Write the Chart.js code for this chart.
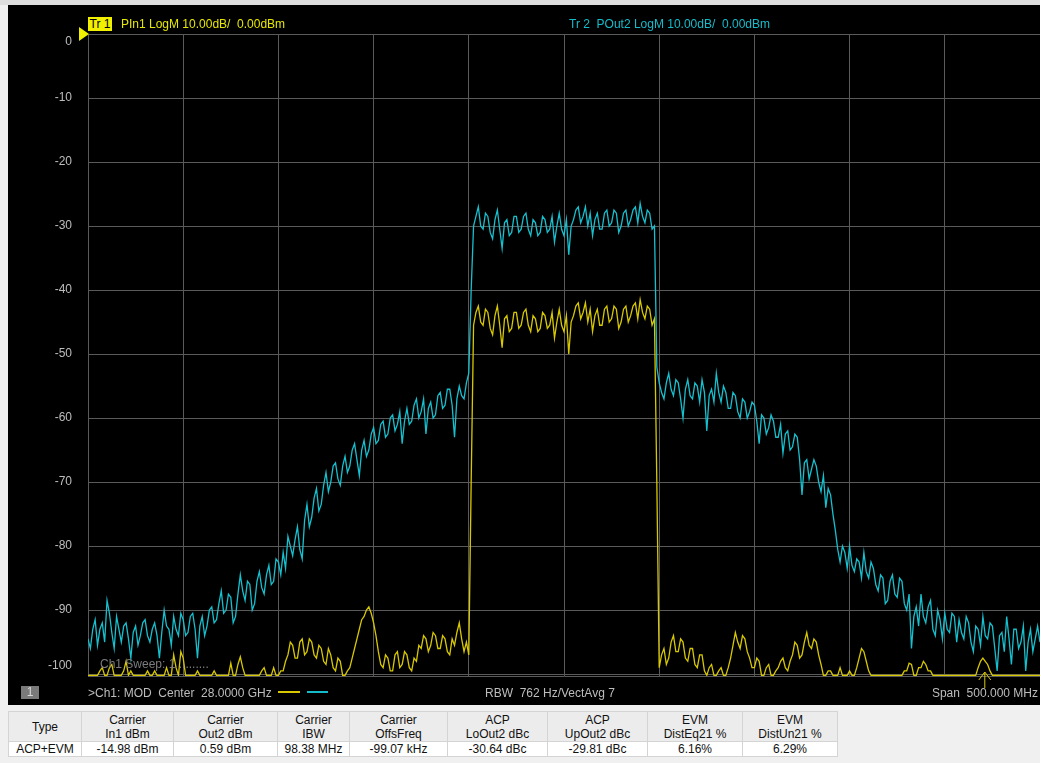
<!DOCTYPE html>
<html>
<head>
<meta charset="utf-8">
<script src="https://cdn.jsdelivr.net/npm/chart.js@4.4.1/dist/chart.umd.min.js"></script>
<style>
  body { margin: 0; width: 1040px; height: 763px; background: #f0f0f0; position: relative; overflow: hidden;
         font-family: "Liberation Sans", Arial, sans-serif; }
  #topband { position: absolute; left: 0; top: 0; width: 1040px; height: 5px; background: #dedede; }
  #panel { position: absolute; left: 8px; top: 5px; width: 1032px; height: 700px; background: #000; }
  #chart { position: absolute; left: 0; top: 0; }
  .t { position: absolute; font-size: 12px; line-height: 14px; white-space: pre; }
  #tr1box { left: 80px; top: 12px; width: 24px; height: 14px; background: #f0f000; color: #000; text-align: center; }
  #tr1 { left: 113px; top: 12px; color: #e6e600; }
  #tr2 { left: 561px; top: 12px; color: #14bccb; }
  #sweep { left: 92px; top: 652px; color: #7c7c7c; }
  #chbox { left: 13px; top: 681px; width: 18px; height: 13px; line-height: 13px; background: #7a7a7a; color: #d8d8d8; text-align: center; }
  #center { left: 80px; top: 681px; color: #bdbdbd; }
  #rbw { left: 477px; top: 681px; color: #bdbdbd; }
  #span { right: 2px; top: 681px; color: #bdbdbd; }
  .seg { position: absolute; top: 686px; height: 2px; }
  #segy { left: 270px; width: 22px; background: #d8c800; }
  #segc { left: 299px; width: 21px; background: #14bccb; }
  #tbl { position: absolute; left: 8px; top: 711px; border-collapse: collapse; table-layout: fixed; font-size: 12px; }
  #tbl td { border: 1px solid #d4d4d4; text-align: center; padding: 0; color: #111; }
  #tbl tr.h td { background: #ececec; height: 29px; line-height: 14px; }
  #tbl tr.d td { background: #fff; height: 14px; line-height: 14px; }
</style>
</head>
<body>
<div id="topband"></div>
<div id="panel">
  <canvas id="chart" width="1032" height="700"></canvas>
  <div class="t" id="tr1box">Tr 1</div>
  <div class="t" id="tr1">PIn1 LogM 10.00dB/  0.00dBm</div>
  <div class="t" id="tr2">Tr 2  POut2 LogM 10.00dB/  0.00dBm</div>
  <div class="t" id="sweep">Ch1 Sweep: 1 .........</div>
  <div class="t" id="chbox">1</div>
  <div class="t" id="center">&gt;Ch1: MOD  Center  28.0000 GHz</div>
  <div class="seg" id="segy"></div>
  <div class="seg" id="segc"></div>
  <div class="t" id="rbw">RBW  762 Hz/VectAvg 7</div>
  <div class="t" id="span">Span  500.000 MHz</div>
</div>
<table id="tbl"></table>

<script>
// sweep: center 28 GHz, span 500 MHz, offsets in MHz
var startMHz = -250;
var stepMHz = 1.25;
var xGrid = [-250, -200, -150, -100, -50, 0, 50, 100, 150, 200, 250];
var yTicks = [0, -10, -20, -30, -40, -50, -60, -70, -80, -90, -100];
var refLevel = 0;
var markerMHz = 221;

// Tr 2  POut2 (dBm), 401 points
var pout2 = [
  -94.5,-96,-93,-91.5,-95.5,-93,-92,-95,-88.5,-90.5,-93.5,-96,-91,-93,-95,-92.5,-92,-94.5,-97.5,-93.5,
  -92.5,-95.5,-94,-92,-91.5,-94,-95,-93,-92,-94,-97.5,-93.5,-90,-92.5,-93,-95.5,-91,-93,-94,-90.5,-91.5,-94,
  -93.5,-91,-90.5,-93,-97.5,-92.5,-91,-94,-92.5,-90,-89.5,-92,-91.5,-89,-87,-90.5,-90,-87.5,
  -88,-92,-91,-87.5,-84.5,-87,-88.5,-85.5,-86,-90,-89,-85.5,-84,-86.5,-87.5,-84.5,-83,-86,-85.5,-82,-82.5,-84.5,
  -81,-83.5,-78.5,-80,-81.5,-79,-77,-80.5,-82,-76,-73.5,-77,-75.5,-72.5,-71,-74.5,-73.5,-70.5,-68.5,-71.5,
  -70,-67.5,-67,-69.5,-70.5,-67.5,-66,-68.5,-67.5,-65,-64,-66.5,-69,-65,-63.5,-66,-65,-62.5,-61.5,-64,
  -63.5,-61,-60.5,-63,-62.5,-60,-59.5,-62,-61,-59,-64,-60.5,-58.5,-61,-60.5,-58,-57,-60,-59,-57,
  -62.5,-58.5,-57.5,-60,-59.5,-56.5,-56,-58.5,-58,-55.5,-55.5,-58,-63,-57,-55,-56.5,-57,-54.5,-53,-40,
  -30,-28.5,-27,-30,-30.5,-28,-28.5,-31,-32,-29,-27.5,-30.5,-33.5,-29.5,-29,-31.5,-31,-28.5,-28.5,-31,
  -30.5,-28.5,-28,-30.5,-31.5,-29,-29.5,-31.5,-31,-28.5,-29,-31,-30.5,-28.5,-32.5,-30,-28,-30.5,-31.5,-29,
  -34.5,-30,-29,-27.5,-27,-29.5,-28.5,-27,-30,-28,-31.5,-29,-28,-30.5,-30.5,-28,-27.5,-30,-29.5,-27.5,
  -28,-31,-30,-28,-27.5,-30,-29,-27.5,-27,-29.5,-26.5,-28.5,-29.5,-27.5,-28,-30.5,-30,-52,
  -54.5,-56,-57,-54.5,-53,-55.5,-56.5,-54,-54.5,-57,-60,-55.5,-54,-56.5,-57,-54.5,-55,-57.5,-54,-56,
  -62,-56.5,-55.5,-57.5,-53,-56,-57.5,-55,-56,-58.5,-58.5,-56,-56.5,-59,-60,-57,-57.5,-60,-59,-57.5,
  -58,-60.5,-64,-59.5,-60,-62.5,-61.5,-59.5,-60.5,-63,-63,-61,-65.5,-62.5,-62,-65,-64.5,-62.5,-63,-66.5,
  -72,-67,-66.5,-69.5,-68,-66.5,-67.5,-70,-71.5,-69,-74,-71,-72,-75,-77.5,-80.5,-82.5,-80,-81,-83.5,-80,-83,
  -84,-82,-82.5,-85,-81,-84,-85,-82.5,-83.5,-86,-87,-84.5,-85,-89,-88.5,-85.5,-84.5,-87.5,-88,-85,
  -85.5,-89,-90,-87.5,-96,-91,-89.5,-92.5,-87.5,-91,-92,-89.5,-88.5,-93,-94,-90,-91.5,-94.5,-90.5,-93,
  -93.5,-90.5,-91,-95,-91.5,-93.5,-94.5,-91,-92,-95,-96.5,-92.5,-93,-95.5,-91,-94,-94.5,-92,-92.5,-96,
  -99.5,-94,-93.5,-96.5,-91,-94.5,-98.5,-93,-93,-96,-95,-92.5,-99.5,-95,-93,-96.5,-94.5,-92.5,-95
];

// Tr 1  PIn1 (dBm), 401 points
var pin1 = [
  -100.2,-100.2,-100.2,-100.2,-100.2,-99.5,-99,-100.2,-100.2,-99,-98.5,-100.2,-100.2,-100.2,-100.2,-99.5,-98,-100.2,-99.5,-100.2,
  -100.2,-100.2,-100.2,-100.2,-100.2,-99.5,-100.2,-100.2,-99.5,-100.2,-100.2,-100.2,-100.2,-99,-100.2,-100.2,-97,-99,-100.2,-96.5,-97.5,-100.2,
  -100.2,-100.2,-100.2,-100.2,-99.5,-100.2,-100.2,-100.2,-100.2,-100.2,-100.2,-99.5,-100.2,-100.2,-100.2,-100.2,-100.2,-100.2,
  -98.3,-100.2,-100.2,-98.5,-97.3,-99,-100.2,-100.2,-100.2,-100.2,-100.2,-100.2,-100.2,-99.5,-99,-100.2,-100.2,-100.2,-99,-100.2,-100.2,-99.5,
  -99.5,-98,-97,-95,-95.5,-97.5,-97.5,-95,-94.5,-97,-96.5,-94.5,-95,-97,-97.5,-95.5,-96,-98,-98.5,-96,
  -97,-99,-99.5,-97.5,-98,-100.2,-100.2,-99.5,-99,-97.5,-96,-94.5,-93,-91.5,-91,-90,-89.5,-90.5,-92,-94,
  -96.5,-98.5,-99,-97,-97.5,-99.5,-99.5,-97,-96.5,-99,-98.5,-96.5,-97,-99,-99.5,-97.5,-98,-95.5,-96,-94,
  -94.5,-96.5,-95.5,-93.5,-94,-96,-96,-94,-94.5,-96.5,-97,-94.5,-95.5,-93.5,-92,-94.5,-96.5,-95,-97,-70,
  -45.5,-43.5,-42.5,-45,-45.5,-43,-43.5,-46,-47,-44,-42.5,-45.5,-49,-44.5,-44,-46.5,-46,-43.5,-43.5,-46,
  -45.5,-43.5,-43,-45.5,-46.5,-44,-44.5,-46.5,-46,-43.5,-44,-46,-45.5,-43.5,-47.5,-45,-43,-45.5,-46.5,-44,
  -50,-45,-44,-42.5,-42,-44.5,-43.5,-42,-45,-43,-46.5,-44,-43,-45.5,-45.5,-43,-42.5,-45,-44.5,-42.5,
  -43,-46,-45,-43,-42.5,-45,-44,-42.5,-42,-44.5,-41.5,-43.5,-44.5,-42.5,-43,-45.5,-44.5,-70,
  -99,-97,-96,-98.5,-97.5,-95,-94,-96.5,-96.5,-94.5,-95,-97.5,-98,-96,-96,-98.5,-99,-97,-97,-99.5,
  -100.2,-99,-98.5,-100.2,-100.2,-99.5,-99,-100.2,-100.2,-99,-97.5,-95.5,-93.5,-95,-96,-94,-94.5,-96.5,-97.5,-99,
  -99,-97.5,-98,-100.2,-100.2,-99,-98.5,-100.2,-100.2,-99.5,-99,-98,-97.5,-99,-99.5,-98,-97,-95,-95.5,-97.5,
  -97,-95,-93.5,-95.5,-96,-94.5,-95,-97,-98.5,-100.2,-100.2,-99.5,-99.5,-100.2,-100.2,-100.2,-99,-100.2,-100.2,-100.2,-99.5,-100.2,
  -100.2,-99,-97.5,-96,-96.5,-98,-99.5,-100.2,-100.2,-100.2,-100.2,-100.2,-100.2,-100.2,-100.2,-100.2,-100.2,-100.2,-100.2,-100.2,
  -100.2,-99.5,-99.5,-98.3,-98.5,-100.2,-100.2,-99,-99,-98,-98.5,-99.5,-99.5,-100.2,-100.2,-100.2,-100.2,-100.2,-100.2,-100.2,
  -100.2,-100.2,-100.2,-100.2,-100.2,-100.2,-100.2,-100.2,-100.2,-100.2,-100.2,-100.2,-99,-98,-97.5,-98,-98.5,-99.5,-100.2,-100.2,
  -100.2,-100.2,-100.2,-100.2,-100.2,-100.2,-100.2,-100.2,-100.2,-100.2,-100.2,-100.2,-100.2,-100.2,-100.2,-100.2,-100.2,-100.2,-100.2
];

var tableHead1 = ['Type', 'Carrier', 'Carrier', 'Carrier', 'Carrier', 'ACP', 'ACP', 'EVM', 'EVM'];
var tableHead2 = ['', 'In1 dBm', 'Out2 dBm', 'IBW', 'OffsFreq', 'LoOut2 dBc', 'UpOut2 dBc', 'DistEq21 %', 'DistUn21 %'];
var tableRow = ['ACP+EVM', '-14.98 dBm', '0.59 dBm', '98.38 MHz', '-99.07 kHz', '-30.64 dBc', '-29.81 dBc', '6.16%', '6.29%'];
var colWidths = [73, 92, 104, 72, 98, 100, 100, 95, 95];

// table
var tbl = document.getElementById('tbl');
var cg = '<colgroup>' + colWidths.map(function (w) { return '<col style="width:' + w + 'px">'; }).join('') + '</colgroup>';
var h = '<tr class="h">' + tableHead1.map(function (a, i) {
  return '<td>' + a + (tableHead2[i] ? '<br>' + tableHead2[i] : '') + '</td>';
}).join('') + '</tr>';
var d = '<tr class="d">' + tableRow.map(function (a) { return '<td>' + a + '</td>'; }).join('') + '</tr>';
tbl.innerHTML = cg + h + d;

function toPoints(arr) {
  return arr.map(function (v, i) { return { x: startMHz + i * stepMHz, y: v }; });
}

var gridCol = '#5a5a5a';

var overlay = {
  id: 'overlay',
  afterDraw: function (chart) {
    var ctx = chart.ctx, a = chart.chartArea;
    var ys = chart.scales.y, xs = chart.scales.x;
    ctx.save();
    // y labels, kept inside the plot frame like the analyzer does
    ctx.font = '12px "Liberation Sans", Arial, sans-serif';
    ctx.fillStyle = '#bdbdbd';
    ctx.textAlign = 'right';
    ctx.textBaseline = 'middle';
    yTicks.forEach(function (v) {
      var y = ys.getPixelForValue(v);
      y = Math.max(y, a.top + 8);
      y = Math.min(y, a.bottom - 10);
      ctx.fillText(String(v), a.left - 16, y);
    });
    // reference level arrow
    var ry = ys.getPixelForValue(refLevel);
    ctx.fillStyle = '#f0f000';
    ctx.beginPath();
    ctx.moveTo(a.left - 9, ry - 7);
    ctx.lineTo(a.left + 1, ry);
    ctx.lineTo(a.left - 9, ry + 7);
    ctx.closePath();
    ctx.fill();
    // marker at bottom
    var mx = xs.getPixelForValue(markerMHz);
    ctx.strokeStyle = '#d8c800';
    ctx.lineWidth = 1;
    ctx.beginPath();
    ctx.moveTo(mx, a.bottom - 4);
    ctx.lineTo(mx, a.bottom + 12);
    ctx.moveTo(mx - 6, a.bottom + 4);
    ctx.lineTo(mx, a.bottom - 4);
    ctx.lineTo(mx + 6, a.bottom + 4);
    ctx.stroke();
    ctx.restore();
  }
};

new Chart(document.getElementById('chart'), {
  type: 'line',
  data: {
    datasets: [{
      label: 'Tr 2 POut2',
      data: toPoints(pout2),
      borderColor: '#16c0cf',
      borderWidth: 1.3,
      pointRadius: 0
    }, {
      label: 'Tr 1 PIn1',
      data: toPoints(pin1),
      borderColor: '#d8c800',
      borderWidth: 1.3,
      pointRadius: 0
    }]
  },
  options: {
    responsive: false,
    animation: false,
    layout: { padding: { top: 29, bottom: 29, left: 0, right: 0 } },
    plugins: { legend: { display: false }, tooltip: { enabled: false } },
    scales: {
      x: {
        type: 'linear', min: -250, max: 250,
        afterBuildTicks: function (s) { s.ticks = xGrid.map(function (v) { return { value: v }; }); },
        afterFit: function (s) { s.height = 0; },
        ticks: { display: false },
        grid: { color: gridCol, drawTicks: false },
        border: { color: gridCol }
      },
      y: {
        min: -100.3, max: 0,
        afterBuildTicks: function (s) { s.ticks = yTicks.map(function (v) { return { value: v }; }); },
        afterFit: function (s) { s.width = 80; },
        ticks: { display: false },
        grid: { color: gridCol, drawTicks: false },
        border: { color: gridCol }
      }
    }
  },
  plugins: [overlay]
});
</script>
</body>
</html>
